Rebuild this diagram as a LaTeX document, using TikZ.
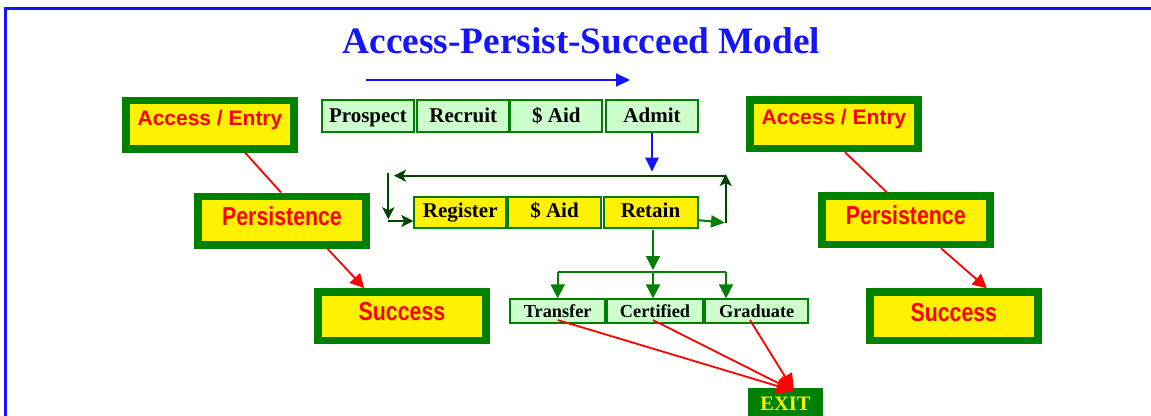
\documentclass[tikz,border=0pt]{standalone}
\usepackage{fontspec}
\setmainfont{Liberation Serif}
\newfontfamily\sansnarrow{Liberation Sans}[FakeStretch=0.82]
\newfontfamily\sanswide{Liberation Sans}
\usetikzlibrary{arrows.meta,calc}
\definecolor{grn}{RGB}{0,128,0}
\definecolor{lgrn}{RGB}{204,255,204}
\definecolor{dgrn}{RGB}{0,68,0}
\definecolor{ttlblue}{RGB}{20,20,255}
\definecolor{boxred}{RGB}{255,0,0}
\newcommand\fTitle{\fontsize{37.3}{37.3}\selectfont\bfseries}
\newcommand\fRow{\fontsize{21}{21}\selectfont\bfseries}
\newcommand\fRowSmall{\fontsize{18.3}{18.3}\selectfont\bfseries}
\newcommand\fAccess{\sanswide\fontsize{21}{21}\selectfont\bfseries}
\newcommand\fNarrow{\sansnarrow\fontsize{26}{26}\selectfont\bfseries}
\newcommand\fExit{\fontsize{20.5}{20.5}\selectfont\bfseries}
\tikzset{
  bigbox/.style={draw=grn, fill=yellow, line width=7.7pt, minimum width=168.3pt,
    minimum height=48.3pt, inner sep=0pt, text=boxred},
  accbox/.style={bigbox, font=\fAccess, text height=10pt, text depth=9pt},
  perbox/.style={bigbox, font=\fNarrow, text height=14pt, text depth=5pt},
  sucbox/.style={bigbox, font=\fNarrow, text height=15pt, text depth=5.5pt},
  toprow/.style={draw=grn, fill=lgrn, line width=2pt, minimum width=92.3pt,
    minimum height=32pt, inner sep=0pt, font=\fRow, text height=15pt, text depth=3pt},
  midrow/.style={draw=grn, fill=yellow, line width=2pt, minimum width=92pt,
    minimum height=31.3pt, inner sep=0pt, font=\fRow, text height=14pt, text depth=5pt},
  botrow/.style={draw=grn, fill=lgrn, line width=2pt,
    minimum height=23.7pt, inner sep=0pt, font=\fRowSmall, text height=13pt, text depth=1pt},
  redline/.style={draw=boxred, line width=1.8pt},
  redarrow/.style={redline, -{Triangle[length=14pt,width=14pt]}},
  exitarrow/.style={redline, -{Triangle[length=17pt,width=16pt]}},
  bluearrow/.style={draw=ttlblue, line width=2.2pt, -{Triangle[length=14pt,width=13pt]}},
  loopline/.style={draw=dgrn, line width=2.3pt, -{Stealth[length=12pt,width=12pt,inset=3pt]}},
  treearrow/.style={draw=grn, line width=2pt, -{Triangle[length=14pt,width=14pt]}},
  treeline/.style={draw=grn, line width=2pt},
}
\begin{document}
\begin{tikzpicture}[x=1pt,y=-1pt]
\useasboundingbox (0,0) rectangle (1151,415);
% frame
\draw[ttlblue, line width=2.5pt] (5.5,430) -- (5.5,8.5) -- (1170,8.5);
% title
\node[anchor=base, text=ttlblue, font=\fTitle, inner sep=0pt] (title) at (581.5,53) {Access-Persist-Succeed Model};
% big boxes
\node[accbox] (accL) at (210,124.5) {Access / Entry};
\node[perbox] (perL) at (282,220.5) {Persistence};
\node[sucbox] (sucL) at (402,316.2) {Success};
\node[accbox] (accR) at (834,124.2) {Access / Entry};
\node[perbox] (perR) at (905.8,220.3) {Persistence};
\node[sucbox] (sucR) at (953.8,316.3) {Success};
% top row
\node[toprow] (pros) at (367.9,116.3) {Prospect};
\node[toprow] (recr) at (463.3,116.3) {Recruit};
\node[toprow] (aidA) at (556.3,116.3) {\$ Aid};
\node[toprow] (admt) at (652,116.3) {Admit};
% middle row
\node[midrow] (regi) at (460.3,212.7) {Register};
\node[midrow, minimum width=92.5pt] (aidB) at (554.5,212.7) {\$ Aid};
\node[midrow, minimum width=94pt] (retn) at (650.5,212.7) {Retain};
% bottom row
\node[botrow, minimum width=94.7pt] (trns) at (557.7,311.2) {Transfer};
\node[botrow, minimum width=96.3pt] (cert) at (655,311.2) {Certified};
\node[botrow, minimum width=103pt] (grad) at (756.7,311.2) {Graduate};
% exit
\node[fill=grn, minimum width=74.4pt, minimum height=30pt, inner sep=0pt, text=yellow,
  font=\fExit, text height=15pt, text depth=0.4pt] (exit) at (785.5,402.7) {EXIT};
% coordinates
\coordinate (bA) at (366,80);
\coordinate (bB) at (630,80);
\coordinate (bTip) at (652,171.7);
\coordinate (loopTR) at (725.7,175.7);
\coordinate (loopTL) at (394,175.7);
\coordinate (loopRB) at (725.7,223.3);
\coordinate (loopRtop) at (725.7,174);
\coordinate (retOut) at (725,222.7);
\coordinate (loopLT) at (388.3,172.7);
\coordinate (loopLB) at (388.3,219.3);
\coordinate (loopLS) at (388.3,221);
\coordinate (stemT) at (653,229.5);
\coordinate (stemB) at (653,270);
\coordinate (barL) at (557.7,272);
\coordinate (barR) at (726,272);
\coordinate (barM) at (653,272);
\coordinate (exTip) at (794,391);
% red connectors
\draw[redline] ($(accL.south)+(35,0)$) -- ($(perL.north)+(-1,0)$);
\draw[redarrow] ($(perL.south)+(45.3,0)$) -- ($(sucL.north)+(-37.7,0)$);
\draw[redline] ($(accR.south)+(11,0)$) -- ($(perR.north)+(-19,0)$);
\draw[redarrow] ($(perR.south)+(35.2,0)$) -- ($(sucR.north)+(33,0)$);
% blue arrows
\draw[bluearrow] (bA) -- (bB);
\draw[bluearrow] (admt.south) -- (bTip);
% loop
\draw[draw=grn, line width=2pt, -{Triangle[length=14pt,width=12pt]}] ($(retn.east)+(0,7.5)$) -- (retOut);
\draw[loopline] (loopRB) -- (loopRtop);
\draw[loopline] (loopTR) -- (loopTL);
\draw[loopline] (loopLT) -- (loopLB);
\draw[loopline] (loopLS) -- (loopLS -| regi.west);
% tree
\draw[treearrow] (stemT) -- (stemB);
\draw[treeline] (barL) -- (barR);
\draw[treearrow] (barL) -- (barL |- trns.north);
\draw[treearrow] (barM) -- (barM |- cert.north);
\draw[treearrow] (barR) -- (barR |- grad.north);
% to exit
\draw[exitarrow] ($(trns.south)+(0,-4)$) -- (exTip);
\draw[exitarrow] ($(cert.south)+(-2,-4)$) -- (exTip);
\draw[exitarrow] ($(grad.south)+(-6.7,-4)$) -- (exTip);
\end{tikzpicture}
\end{document}
